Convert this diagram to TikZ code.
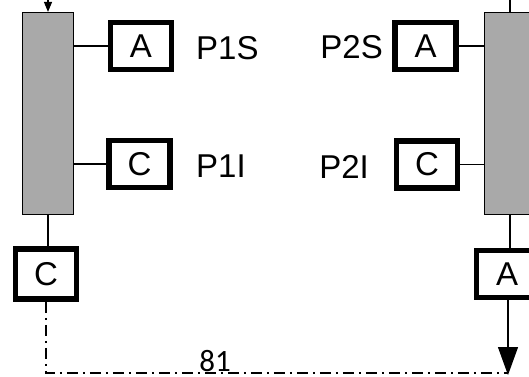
\documentclass[tikz,border=0pt]{standalone}
\usepackage{fontspec}
\setmainfont{Liberation Sans}
\newfontfamily\calib{Carlito}
\usetikzlibrary{arrows.meta}
\definecolor{bargray}{HTML}{A9A9A9}
\begin{document}
\begin{tikzpicture}[x=1pt,y=-1pt,
  letterbox/.style={draw=black,line width=5.5pt,fill=white,minimum width=61pt,minimum height=47pt,inner sep=0pt,font=\fontsize{33}{36}\selectfont},
  bar/.style={draw=black,line width=1.2pt,fill=bargray,minimum width=51pt,minimum height=202pt,inner sep=0pt},
  lbl/.style={inner sep=0pt,font=\fontsize{33}{36}\selectfont},
  conn/.style={draw=black,line width=1.2pt},
  dashdot/.style={draw=black,line width=2.2pt,dash pattern=on 11pt off 5pt on 2pt off 5pt}]
\useasboundingbox (0,0) rectangle (529,376);
% bars
\node[bar] (barL) at (48,113.5) {};
\node[bar] (barR) at (510,113.5) {};
% boxes
\node[letterbox] (AL) at (141,46) {A};
\node[letterbox] (CL) at (139.5,164) {C};
\node[letterbox] (AR) at (425.5,46) {A};
\node[letterbox] (CR) at (427,164.5) {C};
\node[letterbox,minimum height=50pt] (CB) at (46,274) {C};
\node[letterbox] (AB) at (507,274) {A};
% labels
\node[lbl,anchor=west] (p1s) at (196,48) {P1S};
\node[lbl,anchor=west] (p1i) at (196,166) {P1I};
\node[lbl,anchor=east] (p2s) at (383,47) {P2S};
\node[lbl,anchor=east] (p2i) at (369,167) {P2I};
\node[inner sep=0pt,anchor=base,font=\calib\fontsize{31}{34}\selectfont] (pg) at (215,371) {81};
% top connectors
\coordinate (tl) at (48,0);
\coordinate (tr) at (510,0);
\draw[conn,-{Triangle[length=10pt,width=8pt]}] (tl) -- (barL.north);
\draw[conn] (tr) -- (barR.north);
% side connectors
\draw[conn] (barL.east |- AL.west) -- (AL.west);
\draw[conn] (barL.east |- CL.west) -- (CL.west);
\draw[conn] (barR.west |- AR.east) -- (AR.east);
\draw[conn] (barR.west |- CR.east) -- (CR.east);
% bottom connectors
\draw[conn] (barL.south) -- (barL.south |- CB.north);
\draw[conn] (barR.south) -- (barR.south |- AB.north);
\coordinate (corner) at (CB.south |- 0,373);
\coordinate (tip) at (508,375);
\draw[dashdot] (CB.south) -- (corner) -- (tip |- corner);
\draw[conn,-{Triangle[length=28pt,width=20pt]}] (AB.south -| tip) -- (tip);
\end{tikzpicture}
\end{document}
